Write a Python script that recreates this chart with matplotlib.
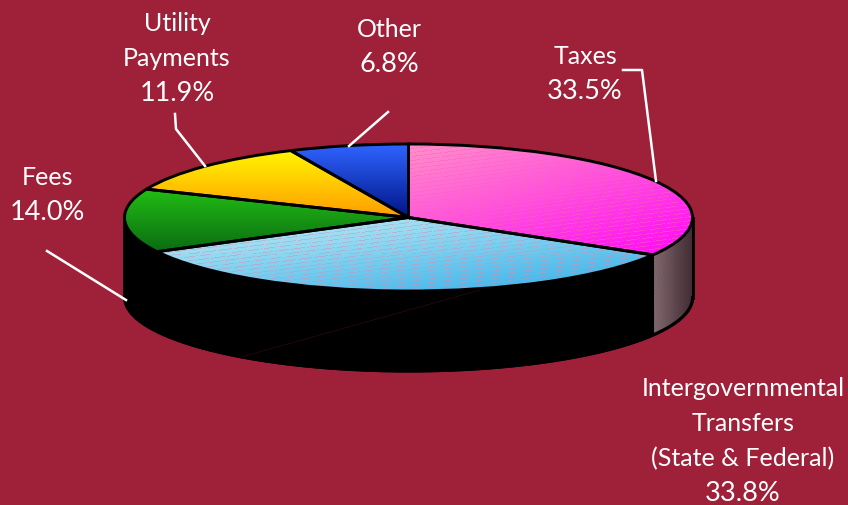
import numpy as np
import matplotlib
matplotlib.use('Agg')
import matplotlib.pyplot as plt
from matplotlib.colors import to_rgb
from matplotlib.lines import Line2D

labels = ['Taxes', 'Intergovernmental\nTransfers\n(State & Federal)', 'Fees', 'Utility\nPayments', 'Other']
shares = [33.5, 33.8, 14.0, 11.9, 6.8]

BG = '#9e2039'
W, H = 848, 506
CX, CY = 408.5, 218.5   # pie centre in pixels
RX, RY = 284, 73.5      # ellipse radii in pixels
DEPTH = 80 / RY         # pie thickness in y units
EDGE = 2.1

plt.rcParams['font.family'] = ['Lato', 'DejaVu Sans']

fig = plt.figure(figsize=(W / 100, H / 100), dpi=100, facecolor=BG)
ax = fig.add_axes([0, 0, 1, 1])

wedges, _ = ax.pie(shares, startangle=90, counterclock=False, radius=1,
                   wedgeprops=dict(facecolor='none', edgecolor='black', linewidth=EDGE, zorder=5))
ax.set_aspect('auto')


def grad_fill(patch, c1, c2, direction='v', dash=None, zorder=3):
    # gradient image clipped to a patch, optional dither dashes
    bb = patch.get_path().get_extents(patch.get_patch_transform())
    nx = max(int(bb.width * RX) + 2, 2)
    ny = max(int(bb.height * RY) + 2, 2)
    yy, xx = np.mgrid[0:ny, 0:nx]
    if direction == 'v':
        t = yy / (ny - 1)
    elif direction == 'h':
        t = xx / (nx - 1)
    else:
        t = 0.45 * xx / (nx - 1) + 0.55 * yy / (ny - 1)
    t = t[..., None]
    img = (1 - t) * np.array(to_rgb(c1)) + t * np.array(to_rgb(c2))
    if dash is not None:
        mask = ((yy + xx // 8) % 4 == 0) & ((xx + 3 * yy) % 10 < 8)
        img[mask] = 0.5 * img[mask] + 0.5 * np.array(to_rgb(dash))
    im = ax.imshow(img, extent=(bb.x0, bb.x1, bb.y0, bb.y1), origin='upper',
                   aspect='auto', interpolation='nearest', zorder=zorder)
    im.set_clip_path(patch)


grad_fill(wedges[0], '#ff90c8', '#ff08f4', 'd', dash='#ff60c0')
grad_fill(wedges[1], '#c8f0f6', '#30aee8', 'd', dash='#d090b8')
grad_fill(wedges[2], '#22bc14', '#0a6c12', 'v')
grad_fill(wedges[3], '#fff400', '#ff9c00', 'v')
grad_fill(wedges[4], '#2f64ff', '#001488', 'v')

# side of the pie: black body, grey part under the first slice
t_all = np.radians(np.linspace(180, 360, 200))
ax.fill_between(np.cos(t_all), np.sin(t_all) - DEPTH, np.sin(t_all), color='black', lw=1.5, zorder=2)

end_taxes = 90 - shares[0] / sum(shares) * 360
t_side = np.radians(np.linspace(end_taxes, 0, 60))
side = ax.fill_between(np.cos(t_side), np.sin(t_side) - DEPTH, np.sin(t_side), color='none', zorder=2.5)
x_s0, x_s1 = np.cos(t_side[0]), np.cos(t_side[-1])
nx = int((x_s1 - x_s0) * RX) + 2
ny = int(1.4 * DEPTH * RY)
yy, xx = np.mgrid[0:ny, 0:nx]
tt = (xx / (nx - 1))[..., None]
side_img = (1 - tt) * np.array(to_rgb('#7e6e74')) + tt * np.array(to_rgb('#3a2e32'))
side_mask = (yy + xx) % 3 == 0
side_img[side_mask] = 0.75 * side_img[side_mask] + 0.25 * np.array(to_rgb(BG))
im = ax.imshow(side_img, extent=(x_s0, x_s1, -DEPTH - 0.6, 0.1), aspect='auto',
               interpolation='nearest', zorder=2.5)
im.set_clip_path(side.get_paths()[0], side.get_transform())

# outlines of the side
ax.plot(np.cos(t_all), np.sin(t_all) - DEPTH, color='black', lw=EDGE, zorder=4)
ax.plot([1, 1], [0, -DEPTH], color='black', lw=EDGE, zorder=4)
ax.plot([-1, -1], [0, -DEPTH], color='black', lw=EDGE, zorder=4)
ax.plot([x_s0, x_s0], [np.sin(t_side[0]), np.sin(t_side[0]) - DEPTH], color='black', lw=0.8, zorder=4)

# faint seam in the black side
seam_a, seam_b = np.radians(-126), np.radians(-74)
ax.plot([np.cos(seam_a), np.cos(seam_b)], [np.sin(seam_a) - DEPTH, np.sin(seam_b)],
        color='#2c0a12', lw=0.5, zorder=4)

ax.set_xlim(-CX / RX, (W - CX) / RX)
ax.set_ylim(-(H - CY) / RY, CY / RY)
ax.axis('off')


def px(x, y):
    return x / W, 1 - y / H


# leader lines
leaders = [
    [(623, 71), (642, 71), (656, 182)],
    [(388, 113), (349, 147)],
    [(175, 115), (176, 130), (205, 167)],
    [(47, 252), (126, 301)],
]
for pts in leaders:
    xs, ys = zip(*[px(*p) for p in pts])
    fig.add_artist(Line2D(xs, ys, color='white', lw=1.8, zorder=6, transform=fig.transFigure))

# label centre x and first baseline, in pixels
label_pos = [(585, 64), (743, 396), (47, 185), (177, 31), (389, 37)]
PITCH = 35
for lab, share, (x, y) in zip(labels, shares, label_pos):
    lines = lab.split('\n')
    for i, line in enumerate(lines):
        tx, ty = px(x, y + i * PITCH)
        fig.text(tx, ty, line, color='white', fontsize=18, ha='center', va='baseline', zorder=7)
    tx, ty = px(x, y + len(lines) * PITCH)
    fig.text(tx, ty, f'{share:.1f}%', color='white', fontsize=19.5, ha='center', va='baseline', zorder=7)

fig.savefig('out.png', dpi=100, facecolor=BG)
